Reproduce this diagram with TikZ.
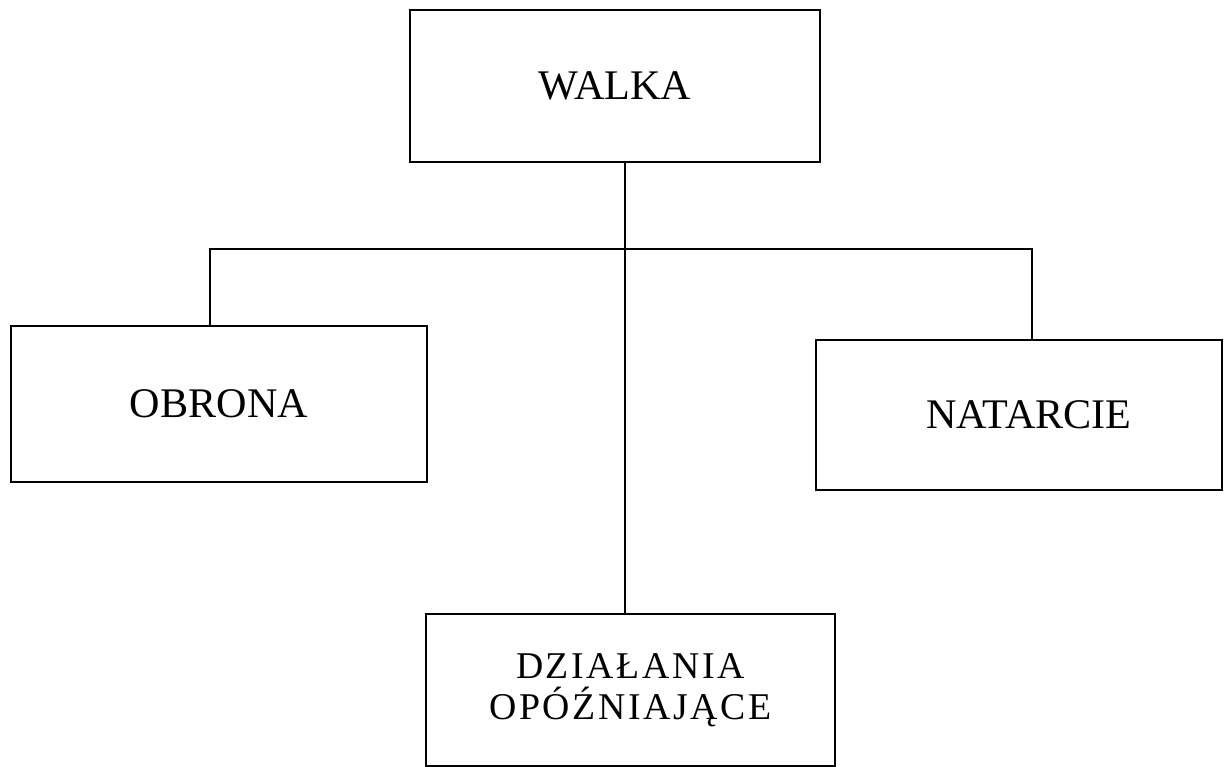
\documentclass[tikz,border=0pt]{standalone}
\usepackage{fontspec}
\setmainfont{Liberation Serif}
\newfontfamily\rozstrzel[LetterSpace=7]{Liberation Serif}
\usetikzlibrary{calc}

\tikzset{
  blok/.style={rectangle, draw, line width=1pt, inner sep=0pt, align=center,
    minimum width=8.2cm, minimum height=3.05cm, font=\fontsize{24}{26}\selectfont}
}

\begin{document}
\begin{tikzpicture}
% forms of combat
\useasboundingbox (0,0) rectangle (24.48,-15.34);

\node[blok] (walka) at (12.30,-1.72) {WALKA};
\node[blok, minimum width=8.32cm, minimum height=3.12cm] (obrona) at (4.38,-8.08) {OBRONA};
\node[blok, minimum width=8.12cm, minimum height=3.0cm, text width=8.12cm] (natarcie) at (20.38,-8.30) {\hspace*{0.4cm}NATARCIE};
\node[blok, minimum width=8.18cm, minimum height=3.04cm, font=\rozstrzel\fontsize{21.5}{23.5}\selectfont] (dzialania) at (12.61,-13.80) {DZIAŁANIA\\OPÓŹNIAJĄCE};

\coordinate (spine) at (12.5,-4.98);
\coordinate (lj) at (4.2,-4.98);
\coordinate (rj) at (20.64,-4.98);

\draw[line width=1pt] (walka.south -| spine) -- (dzialania.north -| spine);
\draw[line width=1pt] (obrona.north -| lj) -- (lj) -- (rj) -- (natarcie.north -| rj);

\end{tikzpicture}
\end{document}
